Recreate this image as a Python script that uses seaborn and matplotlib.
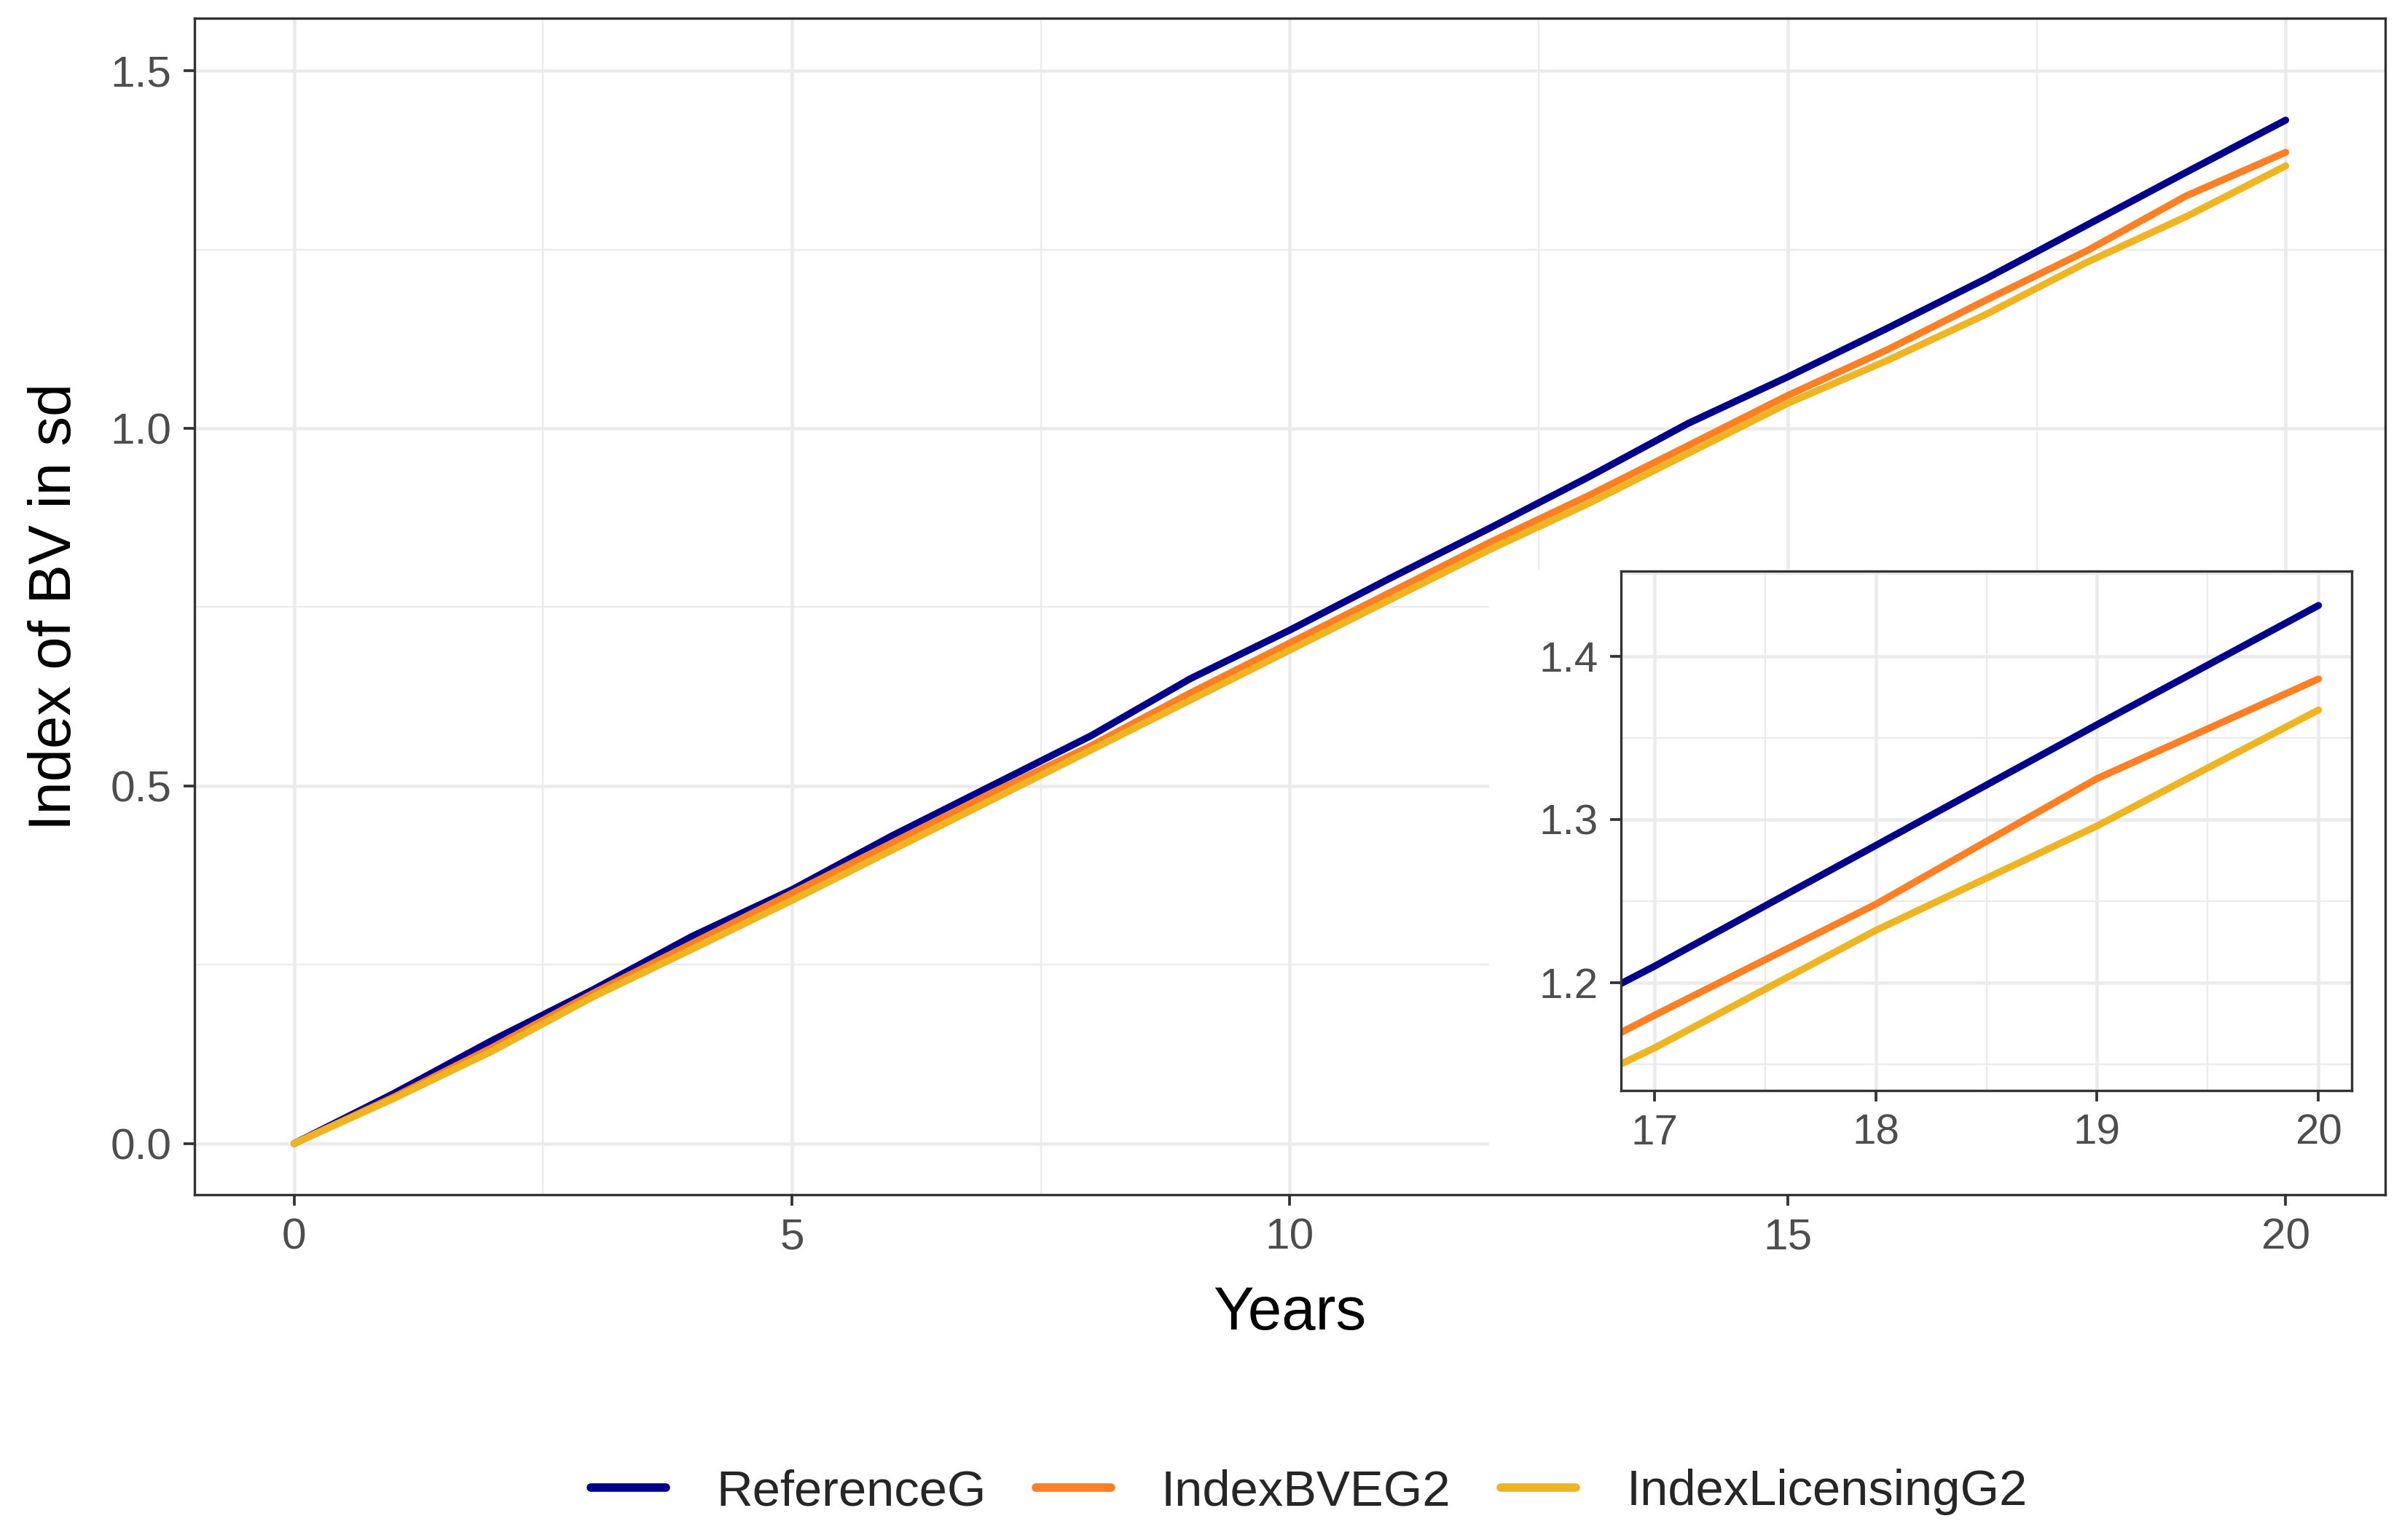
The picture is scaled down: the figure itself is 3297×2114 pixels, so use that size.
import pandas as pd
import matplotlib
matplotlib.use('Agg')
import matplotlib.pyplot as plt
import seaborn as sns
from matplotlib.patches import Rectangle
from matplotlib.ticker import MultipleLocator

# Values
years = list(range(0, 21))
reference_g = [0.0, 0.070, 0.145, 0.215, 0.290, 0.355, 0.430, 0.500, 0.570, 0.650, 0.718,
               0.790, 0.860, 0.932, 1.007, 1.072, 1.140, 1.210, 1.284, 1.358, 1.431]
index_bveg2 = [0.0, 0.065, 0.135, 0.210, 0.280, 0.350, 0.420, 0.490, 0.556, 0.630, 0.700,
               0.770, 0.840, 0.906, 0.976, 1.046, 1.110, 1.180, 1.248, 1.325, 1.386]
index_lic_g2 = [0.0, 0.063, 0.130, 0.205, 0.272, 0.340, 0.410, 0.480, 0.550, 0.620, 0.690,
                0.760, 0.830, 0.895, 0.965, 1.035, 1.095, 1.160, 1.232, 1.296, 1.367]
series_names = ['ReferenceG', 'IndexBVEG2', 'IndexLicensingG2']
series_colors = ['#00008B', '#FF7F24', '#EEB422']

df = pd.DataFrame({
    'Years': years * 3,
    'value': reference_g + index_bveg2 + index_lic_g2,
    'scenario': [n for n in series_names for _ in years],
})
palette = dict(zip(series_names, series_colors))

sns.set_theme(style='white')
plt.rcParams['font.family'] = ['Liberation Sans', 'DejaVu Sans']

fig = plt.figure(figsize=(3297 / 300, 2114 / 300), dpi=300)
ax = fig.add_axes([267 / 3297, 1 - 1640 / 2114, (3274 - 267) / 3297, (1640 - 25) / 2114])


def style_axes(a, label_size):
    a.set_facecolor('white')
    a.grid(which='major', color='#EBEBEB', linewidth=1.1)
    a.grid(which='minor', color='#EBEBEB', linewidth=0.55)
    a.set_axisbelow(True)
    for s in a.spines.values():
        s.set_color('#333333')
        s.set_linewidth(0.8)
        s.set_visible(True)
        s.set_zorder(20)
    a.tick_params(which='major', direction='out', length=3.6, width=0.9, color='#333333',
                  labelsize=label_size, labelcolor='#4D4D4D', bottom=True, left=True, pad=4)
    a.tick_params(which='minor', length=0)


sns.lineplot(data=df, x='Years', y='value', hue='scenario', palette=palette,
             linewidth=2.3, ax=ax)
ax.set_xlim(-1, 21)
ax.set_ylim(-0.0715, 1.5735)
ax.xaxis.set_major_locator(MultipleLocator(5))
ax.xaxis.set_minor_locator(MultipleLocator(2.5))
ax.yaxis.set_major_locator(MultipleLocator(0.5))
ax.yaxis.set_minor_locator(MultipleLocator(0.25))
ax.yaxis.set_major_formatter(matplotlib.ticker.FormatStrFormatter('%.1f'))
style_axes(ax, 14.5)
ax.set_xlabel('Years', fontsize=20, color='black', labelpad=9)
ax.set_ylabel('Index of BV in sd', fontsize=19.5, color='black', labelpad=9)

handles, labels = ax.get_legend_handles_labels()
ax.get_legend().remove()
fig.legend(handles, labels, loc='center', bbox_to_anchor=(0.545, 0.031), ncol=3,
           frameon=False, fontsize=16.5, handlelength=1.5, handletextpad=1.0,
           columnspacing=1.0)
for h in fig.legends[0].get_lines():
    h.set_linewidth(2.8)

# white backdrop behind the inset
ax.add_patch(Rectangle((0.591, 0.0), 0.409, 0.531, transform=ax.transAxes,
                       facecolor='white', edgecolor='none', zorder=10, clip_on=False))

# zoomed inset
ins = fig.add_axes([2225 / 3297, 1 - 1497 / 2114, (3228 - 2225) / 3297, (1497 - 784) / 2114])
ins.set_zorder(30)
sub = df[df['Years'] >= 16]
sns.lineplot(data=sub, x='Years', y='value', hue='scenario', palette=palette,
             linewidth=2.3, ax=ins, legend=False)
ins.set_xlim(16.85, 20.15)
ins.set_ylim(1.134, 1.452)
ins.set_xticks([17, 18, 19, 20])
ins.xaxis.set_minor_locator(MultipleLocator(0.5))
ins.set_yticks([1.2, 1.3, 1.4])
ins.yaxis.set_minor_locator(MultipleLocator(0.05))
ins.yaxis.set_major_formatter(matplotlib.ticker.FormatStrFormatter('%.1f'))
style_axes(ins, 14)
ins.set_xlabel('')
ins.set_ylabel('')

fig.savefig('out.png', dpi=300, facecolor='white')
